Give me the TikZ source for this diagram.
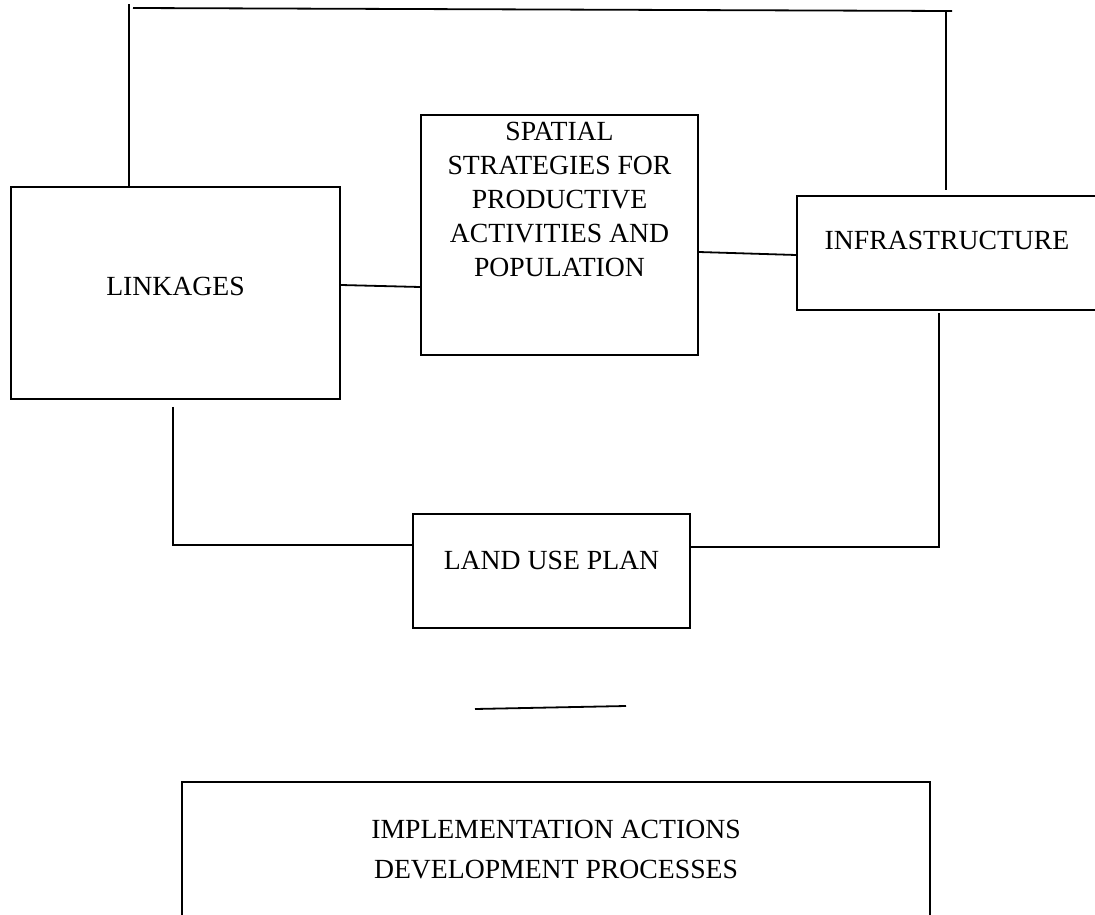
\documentclass[tikz,border=0pt]{standalone}
\usepackage{fontspec}
\setmainfont{Liberation Serif}
\usepackage{tikz}
\usetikzlibrary{positioning, calc}

\begin{document}
\begin{tikzpicture}[x=1pt, y=-1pt, line width=1.8pt,
        every node/.style={font=\fontsize{27.7}{34}\selectfont, inner sep=0pt},
        box/.style={draw, rectangle, align=center, text height=18pt}]
        \clip (0,0) rectangle (1095,915);

        % boxes
        \node[box, minimum width=329, minimum height=212, text depth=14pt] (linkages) at (175.5,293) {LINKAGES};
        \node[box, minimum width=277, minimum height=240] (spatial) at (559.5,235) {};
        \node[align=center, below=7pt of spatial.north] (spatialtext) {SPATIAL\\STRATEGIES FOR\\PRODUCTIVE\\ACTIVITIES AND\\POPULATION};
        \node[box, minimum width=300, minimum height=114, text depth=26pt] (infra) at (947,253) {INFRASTRUCTURE};
        \node[box, minimum width=277, minimum height=114, text depth=22pt] (landuse) at (551.5,571) {LAND USE PLAN};
        \node[box, minimum width=748, minimum height=136, text height=, text depth=,
              font=\fontsize{27.7}{40}\selectfont] (implement) at (556,850) {IMPLEMENTATION ACTIONS\\DEVELOPMENT PROCESSES};

        % free ends
        \coordinate (topleft) at (129,4);
        \coordinate (barl) at (133,8);
        \coordinate (barr) at (952,11);
        \coordinate (topright) at (946,11);
        \coordinate (botleft) at (173,545);
        \coordinate (botright) at (939,547);
        \coordinate (gapl) at (475,709);
        \coordinate (gapr) at (626,706);

        % connectors
        \draw (linkages.north -| topleft) -- (topleft);
        \draw (barl) -- (barr);
        \draw (topright) -- ([yshift=5pt]infra.north -| topright);
        \draw (linkages.east |- 0,285) -- (spatial.west |- 0,287);
        \draw (spatial.east |- 0,252) -- (infra.west |- 0,255);
        \draw ([yshift=-7pt]linkages.south -| botleft) -- (botleft) -- (landuse.west |- botleft);
        \draw (landuse.east |- botright) -- (botright) -- ([yshift=-2pt]infra.south -| botright);
        \draw (gapl) -- (gapr);
    \end{tikzpicture}
\end{document}
